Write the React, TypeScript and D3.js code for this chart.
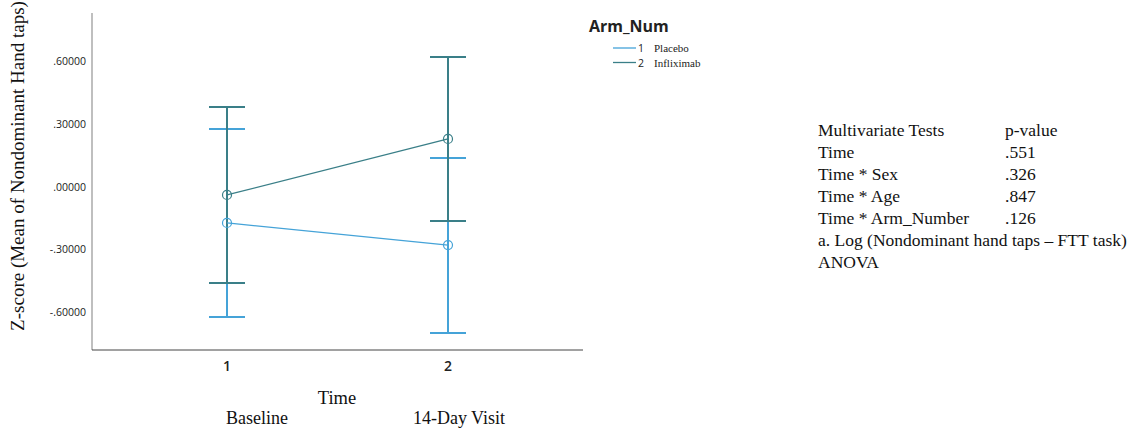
import React from "react";
import * as d3 from "d3";

const timePoints = [1, 2];
const timeNames = ["Baseline", "14-Day Visit"];
const seriesNames = ["Placebo", "Infliximab"];
const seriesCodes = ["1", "2"];
const seriesColors = ["#45a3d8", "#3a7f88"];
const placeboMean = [-0.172, -0.278];
const placeboLow = [-0.622, -0.699];
const placeboHigh = [0.277, 0.139];
const inflixMean = [-0.038, 0.23];
const inflixLow = [-0.459, -0.163];
const inflixHigh = [0.383, 0.622];
const yTicks = [0.6, 0.3, 0, -0.3, -0.6];
const tableRows = [
  ["Multivariate Tests", "p-value"],
  ["Time", ".551"],
  ["Time * Sex", ".326"],
  ["Time * Age", ".847"],
  ["Time * Arm_Number", ".126"],
];
const tableNotes = ["a. Log (Nondominant hand taps – FTT task)", "ANOVA"];

const fmt = (v: number) => {
  const s = Math.abs(v).toFixed(5).replace(/^0/, "");
  return (v < 0 ? "-" : "") + s;
};

export default function App() {
  const W = 1143, H = 429;
  const x = d3.scaleLinear().domain([1, 2]).range([227, 448]);
  const y = d3.scaleLinear().domain([0, 0.3]).range([187, 124.3]);
  const axisLeft = 92, axisRight = 583, axisTop = 13, axisBottom = 350;
  const series = [
    { mean: placeboMean, low: placeboLow, high: placeboHigh },
    { mean: inflixMean, low: inflixLow, high: inflixHigh },
  ];
  const line = d3.line<number>().x((_, i) => x(timePoints[i])).y((d) => y(d));
  const sans = "'Open Sans', 'DejaVu Sans', sans-serif";
  const serif = "'Liberation Serif', 'Times New Roman', serif";
  const capW = 18;
  return (
    <svg width={W} height={H} style={{ position: "absolute", left: 0, top: 0, background: "#fff" }}>
      {/* axes */}
      <line x1={axisLeft} x2={axisLeft} y1={axisTop} y2={axisBottom} stroke="#aaaaaa" strokeWidth={1.5} />
      <line x1={axisLeft} x2={axisRight} y1={axisBottom} y2={axisBottom} stroke="#444" strokeWidth={1} />
      {yTicks.map((t) => (
        <text key={t} x={86} y={y(t)} dy="0.35em" textAnchor="end" fontFamily={sans} fontSize={10.5} fill="#222">
          {fmt(t)}
        </text>
      ))}
      {timePoints.map((t) => (
        <text key={t} x={x(t)} y={371} textAnchor="middle" fontFamily={sans} fontSize={14} fontWeight={600} fill="#222">
          {t}
        </text>
      ))}
      <text transform="translate(24,166) rotate(-90)" textAnchor="middle" fontFamily={serif} fontSize={19} fill="#111">
        Z-score (Mean of Nondominant Hand taps)
      </text>
      <text x={337} y={404} textAnchor="middle" fontFamily={serif} fontSize={18.5} fill="#111">Time</text>
      {timeNames.map((n, i) => (
        <text key={n} x={[257, 459][i]} y={424} textAnchor="middle" fontFamily={serif} fontSize={18} fill="#111">
          {n}
        </text>
      ))}
      {/* series */}
      {series.map((s, si) => (
        <g key={si} stroke={seriesColors[si]} fill="none">
          {timePoints.map((t, i) => (
            <g key={t}>
              <line x1={x(t)} x2={x(t)} y1={y(s.low[i])} y2={y(s.high[i])} strokeWidth={2} />
              <line x1={x(t) - capW} x2={x(t) + capW} y1={y(s.low[i])} y2={y(s.low[i])} strokeWidth={2} />
              <line x1={x(t) - capW} x2={x(t) + capW} y1={y(s.high[i])} y2={y(s.high[i])} strokeWidth={2} />
            </g>
          ))}
        </g>
      ))}
      {series.map((s, si) => (
        <g key={"m" + si} stroke={seriesColors[si]} fill="none">
          <path d={line(s.mean) || ""} strokeWidth={1.3} />
          {timePoints.map((t, i) => (
            <circle key={t} cx={x(t)} cy={y(s.mean[i])} r={4.5} strokeWidth={1.2} fill="none" />
          ))}
        </g>
      ))}
      {/* legend */}
      <text x={589} y={32} fontFamily={sans} fontWeight="bold" fontSize={16} fill="#222">Arm_Num</text>
      {seriesNames.map((n, i) => (
        <g key={n}>
          <line x1={613} x2={636} y1={48 + i * 14.5} y2={48 + i * 14.5} stroke={seriesColors[i]} strokeWidth={1.3} />
          <text x={638} y={52 + i * 14.5} fontFamily={serif} fontSize={11} fill="#222">
            <tspan fontFamily={sans} fontSize={10.5}>{seriesCodes[i]}</tspan>
            <tspan x={654}>{n}</tspan>
          </text>
        </g>
      ))}
      {/* table */}
      {tableRows.map((r, i) => (
        <g key={r[0]}>
          <text x={818} y={136 + i * 22} fontFamily={serif} fontSize={17.5} fill="#111">{r[0]}</text>
          <text x={1005} y={136 + i * 22} fontFamily={serif} fontSize={17.5} fill="#111">{r[1]}</text>
        </g>
      ))}
      {tableNotes.map((n, i) => (
        <text key={n} x={818} y={246 + i * 22} fontFamily={serif} fontSize={17.5} fill="#111">{n}</text>
      ))}
    </svg>
  );
}
